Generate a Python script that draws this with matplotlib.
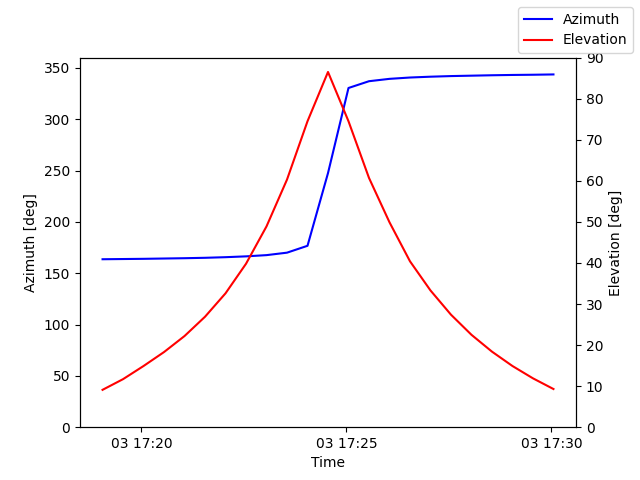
import matplotlib
matplotlib.use("Agg")
import matplotlib.pyplot as plt
import pandas as pd

times = pd.date_range("2023-06-03 17:19:03", periods=23, freq="30s")
azimuth = [163.6, 163.8, 164.0, 164.3, 164.6, 165.0, 165.6, 166.4, 167.6, 170.0,
           176.7, 247.5, 330.4, 337.0, 339.3, 340.6, 341.4, 342.0, 342.4, 342.8,
           343.1, 343.3, 343.6]
elevation = [9.1, 11.7, 14.9, 18.3, 22.2, 26.9, 32.6, 39.8, 48.9, 60.3,
             74.5, 86.5, 74.5, 60.7, 49.9, 40.4, 33.3, 27.4, 22.5, 18.4,
             14.9, 11.9, 9.3]

fig, ax = plt.subplots(figsize=(6.4, 4.8), dpi=100)
ax.plot(times, azimuth, color="blue", label="Azimuth")
ax.set_ylim(0, 360)
ax.set_xlabel("Time")
ax.set_ylabel("Azimuth [deg]")
ax2 = ax.twinx()
ax2.plot(times, elevation, color="red", label="Elevation")
ax2.set_ylim(0, 90)
ax2.set_ylabel("Elevation [deg]")
fig.legend()
fig.savefig("out.png")
